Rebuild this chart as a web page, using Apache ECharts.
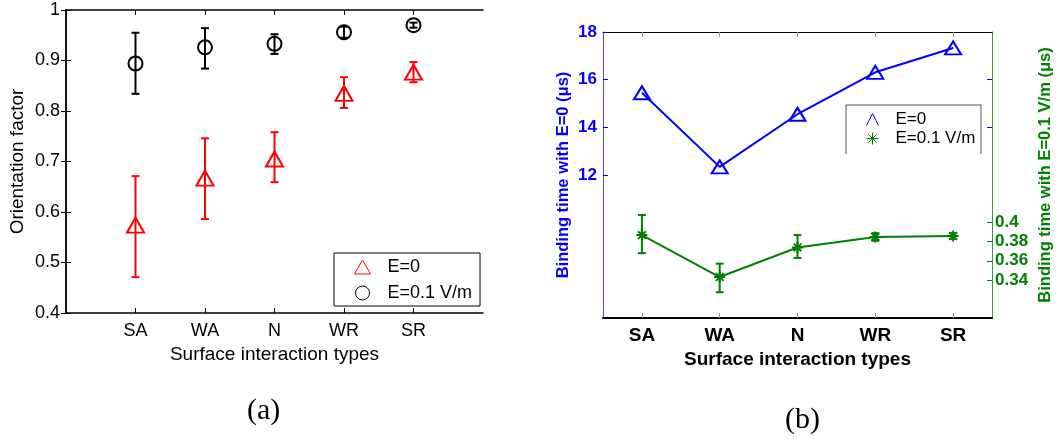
<!DOCTYPE html>
<html>
<head>
<meta charset="utf-8">
<script src="https://cdn.jsdelivr.net/npm/echarts@6/dist/echarts.min.js"></script>
<style>
html,body{margin:0;padding:0;background:#fff;}
#chart{width:1058px;height:440px;}
</style>
</head>
<body>
<div id="chart"></div>
<script>
// ---------- data ----------
const categories = ['SA', 'WA', 'N', 'WR', 'SR'];
// panel (a): orientation factor
const orientE0 = [0.574, 0.667, 0.705, 0.835, 0.877];
const orientE0Low = [0.471, 0.586, 0.659, 0.806, 0.857];
const orientE0High = [0.671, 0.746, 0.758, 0.867, 0.897];
const orientE01 = [0.894, 0.926, 0.933, 0.956, 0.970];
const orientE01Low = [0.834, 0.884, 0.913, 0.945, 0.965];
const orientE01High = [0.955, 0.964, 0.952, 0.967, 0.975];
// panel (b): binding time
const bindE0 = [15.45, 12.34, 14.55, 16.31, 17.33];
const bindE01 = [0.387, 0.343, 0.374, 0.385, 0.386];
const bindE01Low = [0.368, 0.327, 0.363, 0.381, 0.383];
const bindE01High = [0.408, 0.357, 0.387, 0.389, 0.389];
// tick labels
const yTicksA = [0.4, 0.5, 0.6, 0.7, 0.8, 0.9, 1];
const yTicksBLeft = [12, 14, 16, 18];
const yTicksBRight = [0.34, 0.36, 0.38, 0.4];
const seriesNames = ['E=0', 'E=0.1 V/m'];

// ---------- helpers ----------
const posA = categories.map((c, i) => i + 1);
function errRender(color, capHalf, lw) {
  return function (params, api) {
    const x = api.value(0), lo = api.value(1), hi = api.value(2);
    const a = api.coord([x, lo]), b = api.coord([x, hi]);
    const st = { stroke: color, lineWidth: lw };
    return {
      type: 'group',
      children: [
        { type: 'line', shape: { x1: a[0], y1: a[1], x2: b[0], y2: b[1] }, style: st },
        { type: 'line', shape: { x1: a[0] - capHalf, y1: a[1], x2: a[0] + capHalf, y2: a[1] }, style: st },
        { type: 'line', shape: { x1: b[0] - capHalf, y1: b[1], x2: b[0] + capHalf, y2: b[1] }, style: st }
      ]
    };
  };
}
const asterisk = 'path://M5,0 L5,10 M0,5 L10,5 M1.5,1.5 L8.5,8.5 M8.5,1.5 L1.5,8.5';
const chevron = 'path://M0,10 L5,0 L10,10';
const fA = 'Liberation Sans, Arial, sans-serif';
const RED = '#ff0000', BLUE = '#0000ff', GREEN = '#008000';

const chart = echarts.init(document.getElementById('chart'), null, { renderer: 'canvas' });

const option = {
  animation: false,
  backgroundColor: '#ffffff',
  grid: [
    { left: 66, top: 10, width: 417, height: 303 },
    { left: 603, top: 32, width: 389, height: 286 }
  ],
  xAxis: [
    {
      gridIndex: 0, type: 'value', min: 0, max: 6, interval: 1,
      name: 'Surface interaction types', nameLocation: 'middle', nameGap: 28,
      nameTextStyle: { fontFamily: fA, fontSize: 19, color: '#000' },
      axisLine: { show: true, lineStyle: { color: '#000', width: 1.5 } },
      axisTick: { show: true, inside: true, length: 5, customValues: posA, lineStyle: { color: '#000' } },
      axisLabel: { customValues: posA, margin: 9, fontFamily: fA, fontSize: 18, color: '#000',
        formatter: v => categories[Math.round(v) - 1] || '' },
      splitLine: { show: false }
    },
    {
      gridIndex: 0, type: 'value', position: 'top', min: 0, max: 6, interval: 1,
      axisLine: { show: true, lineStyle: { color: '#000', width: 1.5 } },
      axisTick: { show: true, inside: true, length: 5, customValues: posA, lineStyle: { color: '#000' } },
      axisLabel: { show: false }, splitLine: { show: false }
    },
    {
      gridIndex: 1, type: 'category', data: categories, boundaryGap: true,
      name: 'Surface interaction types', nameLocation: 'middle', nameGap: 29,
      nameTextStyle: { fontFamily: fA, fontSize: 19, fontWeight: 'bold', color: '#000' },
      axisLine: { show: true, lineStyle: { color: '#000', width: 2 } },
      axisTick: { show: true, inside: true, length: 5, alignWithLabel: true, lineStyle: { color: '#999' } },
      axisLabel: { margin: 8, fontFamily: fA, fontSize: 19, fontWeight: 'bold', color: '#000' },
      splitLine: { show: false }
    },
    {
      gridIndex: 1, type: 'category', data: categories, boundaryGap: true, position: 'top',
      axisLine: { show: true, lineStyle: { color: '#000', width: 1 } },
      axisTick: { show: true, inside: true, length: 5, alignWithLabel: true, lineStyle: { color: '#999' } },
      axisLabel: { show: false }, splitLine: { show: false }
    }
  ],
  yAxis: [
    {
      gridIndex: 0, type: 'value', min: 0.4, max: 1, interval: 0.1,
      name: 'Orientation factor', nameLocation: 'middle', nameGap: 39,
      nameTextStyle: { fontFamily: fA, fontSize: 19, color: '#000' },
      axisLine: { show: true, lineStyle: { color: '#000', width: 1.5 } },
      axisTick: { show: true, inside: true, length: 5, customValues: yTicksA, lineStyle: { color: '#000' } },
      axisLabel: { customValues: yTicksA, margin: 6, fontFamily: fA, fontSize: 18, color: '#000',
        formatter: v => String(Math.round(v * 10) / 10) },
      splitLine: { show: false }
    },
    {
      gridIndex: 0, type: 'value', position: 'right', min: 0.4, max: 1, interval: 0.1,
      axisLine: { show: true, lineStyle: { color: '#000', width: 1.5 } },
      axisTick: { show: true, inside: true, length: 5, customValues: yTicksA, lineStyle: { color: '#000' } },
      axisLabel: { show: false }, splitLine: { show: false }
    },
    {
      gridIndex: 1, type: 'value', min: 6, max: 18, interval: 2,
      name: 'Binding time with E=0 (μs)', nameLocation: 'middle', nameGap: 31,
      nameTextStyle: { fontFamily: fA, fontSize: 16.5, fontWeight: 'bold', color: BLUE },
      axisLine: { show: true, lineStyle: { color: '#4a4aff', width: 1 } },
      axisTick: { show: true, inside: true, length: 5, customValues: yTicksBLeft, lineStyle: { color: BLUE } },
      axisLabel: { customValues: yTicksBLeft, margin: 6, fontFamily: fA, fontSize: 17, fontWeight: 'bold', color: BLUE },
      splitLine: { show: false }
    },
    {
      gridIndex: 1, type: 'value', position: 'right', min: 0.3, max: 0.6, interval: 0.02,
      name: 'Binding time with E=0.1 V/m (μs)', nameLocation: 'middle', nameGap: 45,
      nameTextStyle: { fontFamily: fA, fontSize: 16.5, fontWeight: 'bold', color: GREEN },
      axisLine: { show: true, lineStyle: { color: '#3a9a3a', width: 1 } },
      axisTick: { show: true, inside: true, length: 5, customValues: yTicksBRight, lineStyle: { color: GREEN } },
      axisLabel: { customValues: yTicksBRight, margin: 3, fontFamily: fA, fontSize: 17, fontWeight: 'bold', color: GREEN,
        formatter: v => String(Math.round(v * 100) / 100) },
      splitLine: { show: false }
    },
    {
      gridIndex: 1, type: 'value', position: 'right', min: 6, max: 18, interval: 2,
      axisLine: { show: false },
      axisTick: { show: true, inside: true, length: 5, customValues: [14, 16], lineStyle: { color: BLUE } },
      axisLabel: { show: false }, splitLine: { show: false }
    }
  ],
  legend: [
    {
      left: 334, top: 253, orient: 'vertical',
      padding: [5, 8, 4, 20], itemGap: 8, itemWidth: 16, itemHeight: 14,
      borderColor: '#000', borderWidth: 1, backgroundColor: '#fff',
      textStyle: { fontFamily: fA, fontSize: 18, color: '#000', padding: [0, 0, 0, 12] },
      selectedMode: false,
      data: [
        { name: seriesNames[0], icon: 'triangle', itemStyle: { color: 'rgba(0,0,0,0)', borderColor: RED, borderWidth: 1 } },
        { name: seriesNames[1], icon: 'circle', itemStyle: { color: 'rgba(0,0,0,0)', borderColor: '#000', borderWidth: 1 } }
      ]
    },
    {
      left: 866, top: 111, orient: 'vertical',
      padding: 0, itemGap: 2, itemWidth: 12, itemHeight: 12,
      textStyle: { fontFamily: fA, fontSize: 17, color: '#000', padding: [0, 0, 0, 12] },
      selectedMode: false,
      data: [
        { name: seriesNames[0], icon: chevron, itemStyle: { color: 'rgba(0,0,0,0)', borderColor: BLUE, borderWidth: 1 } },
        { name: seriesNames[1], icon: asterisk, itemStyle: { color: 'rgba(0,0,0,0)', borderColor: GREEN, borderWidth: 1 } }
      ]
    }
  ],
  graphic: [
    { type: 'polyline', shape: { points: [[846, 154], [846, 105], [981, 105], [981, 154]] },
      style: { stroke: '#555', lineWidth: 1, fill: 'none' }, silent: true },
    { type: 'text', left: 247, top: 396, style: { text: '(a)', font: '30px "Liberation Serif", "Times New Roman", serif', fill: '#000' } },
    { type: 'text', left: 785, top: 405, style: { text: '(b)', font: '30px "Liberation Serif", "Times New Roman", serif', fill: '#000' } }
  ],
  series: [
    // panel (a)
    {
      type: 'custom', name: 'errA0', xAxisIndex: 0, yAxisIndex: 0, z: 3,
      renderItem: errRender(RED, 4, 2),
      data: posA.map((x, i) => [x, orientE0Low[i], orientE0High[i]])
    },
    {
      type: 'custom', name: 'errA1', xAxisIndex: 0, yAxisIndex: 0, z: 3,
      renderItem: errRender('#000', 4, 2),
      data: posA.map((x, i) => [x, orientE01Low[i], orientE01High[i]])
    },
    {
      type: 'scatter', name: seriesNames[0], xAxisIndex: 0, yAxisIndex: 0, z: 4,
      symbol: 'triangle', symbolSize: [17, 15],
      itemStyle: { color: 'rgba(0,0,0,0)', borderColor: RED, borderWidth: 2, opacity: 1 },
      data: posA.map((x, i) => [x, orientE0[i]])
    },
    {
      type: 'scatter', name: seriesNames[1], xAxisIndex: 0, yAxisIndex: 0, z: 4,
      symbol: 'circle', symbolSize: 14,
      itemStyle: { color: 'rgba(0,0,0,0)', borderColor: '#000', borderWidth: 2, opacity: 1 },
      data: posA.map((x, i) => [x, orientE01[i]])
    },
    // panel (b)
    {
      type: 'line', name: seriesNames[0], xAxisIndex: 2, yAxisIndex: 2, z: 4,
      symbol: 'triangle', symbolSize: [16, 13], showAllSymbol: true,
      lineStyle: { color: BLUE, width: 2 },
      itemStyle: { color: 'rgba(0,0,0,0)', borderColor: BLUE, borderWidth: 2 },
      data: bindE0
    },
    {
      type: 'custom', name: 'errB1', xAxisIndex: 2, yAxisIndex: 3, z: 3,
      renderItem: errRender(GREEN, 4, 2),
      data: categories.map((c, i) => [i, bindE01Low[i], bindE01High[i]])
    },
    {
      type: 'line', name: seriesNames[1], xAxisIndex: 2, yAxisIndex: 3, z: 4,
      symbol: asterisk, symbolSize: 11, showAllSymbol: true,
      lineStyle: { color: GREEN, width: 2 },
      itemStyle: { color: 'rgba(0,0,0,0)', borderColor: GREEN, borderWidth: 2 },
      data: bindE01
    }
  ]
};
chart.setOption(option);
</script>
</body>
</html>
